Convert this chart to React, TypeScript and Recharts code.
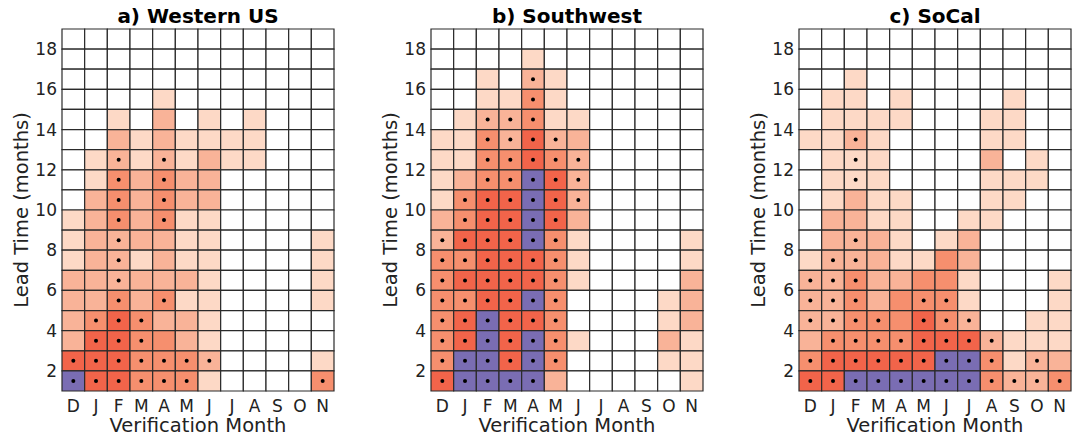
import { ComposedChart, XAxis, YAxis, ReferenceArea, Scatter } from 'recharts';

// ── Data ────────────────────────────────────────────────────────────────────
// x categories (verification month) and y ticks (lead time)
const MONTHS = ['D', 'J', 'F', 'M', 'A', 'M', 'J', 'J', 'A', 'S', 'O', 'N'];
const LEAD_TICKS = [2, 4, 6, 8, 10, 12, 14, 16, 18];

// one string per lead time, from 18 (top) down to 1 (bottom)
// 0 = white, 1..4 = light -> dark red, P = purple
const WEST_LEVELS = [
    '000000000000',
    '000000000000',
    '000000000000',
    '000010000000',
    '001020101000',
    '002121111000',
    '012121211000',
    '013232200000',
    '023232200000',
    '123231100000',
    '122221100001',
    '122121100001',
    '222222100001',
    '223231100001',
    '234322100000',
    '244332100000',
    '444333200001',
    'P44333100003',
];
const WEST_DOTS = [
    '............',
    '............',
    '............',
    '............',
    '............',
    '............',
    '..o.o.......',
    '..o.o.......',
    '..o.o.......',
    '..o.o.......',
    '..o.........',
    '..o.........',
    '..o.........',
    '..o.o.......',
    '.ooo........',
    '.ooo........',
    'ooooooo.....',
    'oooooo.....o',
];

const SW_LEVELS = [
    '000000000000',
    '000010000000',
    '001021000000',
    '001131000000',
    '012231100000',
    '113242200000',
    '113343200000',
    '1233P4200000',
    '1344P4200000',
    '2344P4200000',
    '2444P3100001',
    '334443100001',
    '344443100002',
    '3344P3000012',
    '34P443000012',
    '34P4P3100021',
    '3PP4P3000011',
    '4PPPP2000001',
];
const SW_DOTS = [
    '............',
    '............',
    '....o.......',
    '....o.......',
    '..ooo.......',
    '..oooo......',
    '..ooooo.....',
    '..ooooo.....',
    '.oooooo.....',
    '.ooooo......',
    'oooooo......',
    'oooooo......',
    'oooooo......',
    'oooooo......',
    'oooooo......',
    'oooooo......',
    'oooooo......',
    'ooooo.......',
];

const SOCAL_LEVELS = [
    '000000000000',
    '000000000000',
    '001000000000',
    '011010000100',
    '011110001100',
    '112100001100',
    '011100002010',
    '011100001110',
    '012110001100',
    '022110011000',
    '022210120000',
    '122211320000',
    '223223310001',
    '223233310001',
    '223334320011',
    '233334442111',
    '344444PP3122',
    '44PPPPPP3223',
];
const SOCAL_DOTS = [
    '............',
    '............',
    '............',
    '............',
    '............',
    '..o.........',
    '..o.........',
    '..o.........',
    '............',
    '............',
    '..o.........',
    '.oo.........',
    'ooo.........',
    'ooo..oo.....',
    'oooo.ooo....',
    '.oooooooo...',
    'ooooooooo.o.',
    'oooooooooooo',
];

const LEVEL_COLORS: Record<string, string> = {
    '0': '#ffffff',
    '1': '#fdd9c6',
    '2': '#f9b398',
    '3': '#f68f6e',
    '4': '#f2644a',
    P: '#7a6db3',
};

const FONT = '"DejaVu Sans", sans-serif';
const TEXT = '#222';

const buildCells = (levels: string[]) => {
    const cells: { c: number; lead: number; level: string }[] = [];
    levels.forEach((row, r) => {
        const lead = levels.length - r;
        row.split('').forEach((ch, c) => cells.push({ c, lead, level: ch }));
    });
    return cells;
};

const buildDots = (dots: string[]) => {
    const pts: { x: number; y: number }[] = [];
    dots.forEach((row, r) => {
        const lead = dots.length - r;
        row.split('').forEach((ch, c) => {
            if (ch === 'o') pts.push({ x: c + 0.5, y: lead + 0.5 });
        });
    });
    return pts;
};

// ── Panel ───────────────────────────────────────────────────────────────────
const CHART_W = 345;
const CHART_H = 440;
const PLOT_LEFT = 62; // inside a chart
const PLOT_W = 272;
const PLOT_TOP = 29;
const PLOT_H = 362;

function Panel({ title, levels, dots, left }: { title: string; levels: string[]; dots: string[]; left: number }) {
    const cells = buildCells(levels);
    const pts = buildDots(dots);
    return (
        <div style={{ position: 'absolute', left, top: 0, width: CHART_W, height: CHART_H }}>
            <div
                style={{
                    position: 'absolute', left: PLOT_LEFT, width: PLOT_W, top: 4, textAlign: 'center',
                    fontFamily: FONT, fontWeight: 'bold', fontSize: 20, color: '#000', lineHeight: '24px',
                }}
            >
                {title}
            </div>
            <div
                style={{
                    position: 'absolute', left: 22 - 110, top: PLOT_TOP + PLOT_H / 2 - 12, width: 220, height: 24,
                    lineHeight: '24px', textAlign: 'center', transform: 'rotate(-90deg)',
                    fontFamily: FONT, fontSize: 19.5, color: TEXT, whiteSpace: 'nowrap',
                }}
            >
                Lead Time (months)
            </div>
            <div
                style={{
                    position: 'absolute', left: PLOT_LEFT, width: PLOT_W, top: 414, textAlign: 'center',
                    fontFamily: FONT, fontSize: 19.5, color: TEXT, lineHeight: '24px', whiteSpace: 'nowrap',
                }}
            >
                Verification Month
            </div>
            <ComposedChart
                width={CHART_W}
                height={CHART_H}
                margin={{ top: PLOT_TOP, right: CHART_W - PLOT_LEFT - PLOT_W, bottom: 19, left: 22 }}
                style={{ position: 'absolute', left: 0, top: 0 }}
            >
                <XAxis
                    dataKey="x"
                    type="number"
                    domain={[0, 12]}
                    allowDataOverflow
                    ticks={MONTHS.map((_, i) => i + 0.5)}
                    tickFormatter={(v) => MONTHS[Math.floor(v)]}
                    interval={0}
                    height={30}
                    tick={{ fontSize: 17, fill: TEXT, fontFamily: FONT }}
                    tickLine={false}
                    axisLine={false}
                    tickSize={6}
                    tickMargin={3}
                />
                <YAxis
                    dataKey="y"
                    type="number"
                    domain={[1, 19]}
                    allowDataOverflow
                    ticks={LEAD_TICKS}
                    interval={0}
                    width={40}
                    tick={{ fontSize: 17, fill: TEXT, fontFamily: FONT }}
                    tickLine={false}
                    axisLine={false}
                    tickSize={3}
                    tickMargin={2}
                />
                {cells.map((cell) => (
                    <ReferenceArea
                        key={`${cell.c}-${cell.lead}`}
                        x1={cell.c}
                        x2={cell.c + 1}
                        y1={cell.lead}
                        y2={cell.lead + 1}
                        fill={LEVEL_COLORS[cell.level]}
                        fillOpacity={1}
                        stroke="#2a2a2a"
                        strokeWidth={1.2}
                        ifOverflow="visible"
                    />
                ))}
                <Scatter
                    data={pts}
                    dataKey="y"
                    isAnimationActive={false}
                    shape={(p: any) => <circle cx={p.cx} cy={p.cy} r={2} fill="#000" />}
                />
            </ComposedChart>
        </div>
    );
}

export default function App() {
    return (
        <div style={{ position: 'absolute', left: 0, top: 0, width: 1074, height: 440, overflow: 'hidden', background: '#fff' }}>
            <Panel title="a) Western US" levels={WEST_LEVELS} dots={WEST_DOTS} left={0} />
            <Panel title="b) Southwest" levels={SW_LEVELS} dots={SW_DOTS} left={369} />
            <Panel title="c) SoCal" levels={SOCAL_LEVELS} dots={SOCAL_DOTS} left={737} />
        </div>
    );
}
